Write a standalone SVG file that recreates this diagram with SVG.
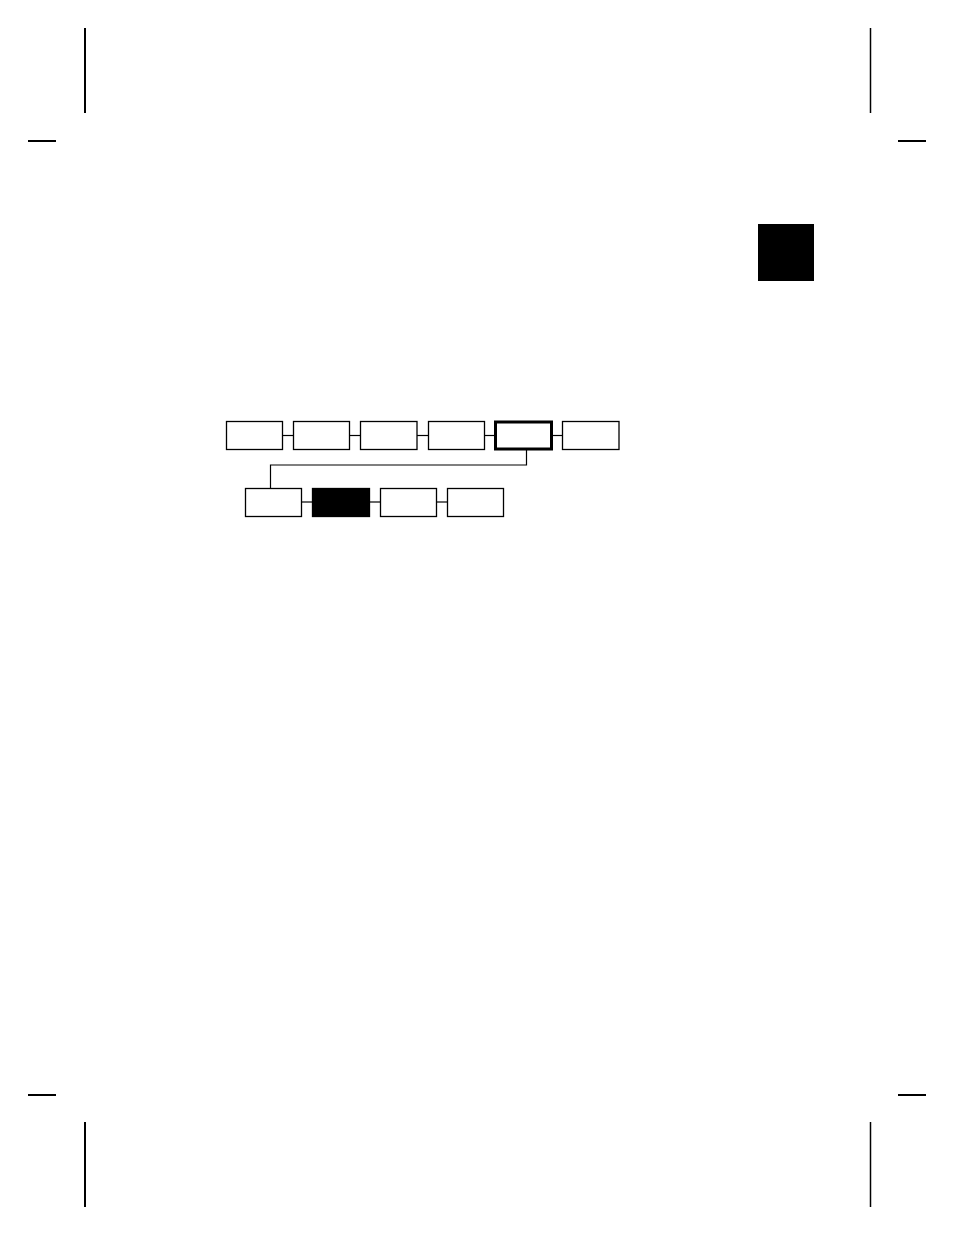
<svg xmlns="http://www.w3.org/2000/svg" width="954" height="1235" viewBox="0 0 954 1235">
<style>
.box{fill:#fff;stroke:#000;stroke-width:1.3}
.thick{fill:#fff;stroke:#000;stroke-width:3}
.filled{fill:#000;stroke:#000;stroke-width:1.3}
.conn{fill:none;stroke:#000;stroke-width:1.2}
.crop{stroke:#000;stroke-width:2;fill:none}
</style>
<rect width="954" height="1235" fill="#fff"/>
<g id="crop-marks">
<line class="crop" x1="85" y1="28" x2="85" y2="113"/>
<line class="crop" x1="28" y1="141" x2="56" y2="141"/>
<line class="crop" x1="870.5" y1="28" x2="870.5" y2="113" style="stroke-width:1.5"/>
<line class="crop" x1="898" y1="141" x2="926" y2="141"/>
<line class="crop" x1="85" y1="1122" x2="85" y2="1207"/>
<line class="crop" x1="28" y1="1095" x2="56" y2="1095"/>
<line class="crop" x1="870.5" y1="1122" x2="870.5" y2="1207" style="stroke-width:1.5"/>
<line class="crop" x1="898" y1="1095" x2="926" y2="1095"/>
</g>
<g id="tab"><rect x="758" y="224" width="56" height="57" fill="#000"/></g>
<g id="connectors">
<line class="conn" x1="282" y1="435.5" x2="293" y2="435.5"/>
<line class="conn" x1="350" y1="435.5" x2="360" y2="435.5"/>
<line class="conn" x1="417" y1="435.5" x2="428" y2="435.5"/>
<line class="conn" x1="485" y1="435.5" x2="495" y2="435.5"/>
<line class="conn" x1="553" y1="435.5" x2="562" y2="435.5"/>
<polyline class="conn" points="526.5,450 526.5,465 270.5,465 270.5,488"/>
<line class="conn" x1="302" y1="502" x2="312" y2="502"/>
<line class="conn" x1="370" y1="502" x2="380" y2="502"/>
<line class="conn" x1="437" y1="502" x2="447" y2="502"/>
</g>
<g id="n1"><rect class="box" x="226.5" y="421.5" width="56" height="28"/></g>
<g id="n2"><rect class="box" x="293.5" y="421.5" width="56" height="28"/></g>
<g id="n3"><rect class="box" x="360.5" y="421.5" width="56.5" height="28"/></g>
<g id="n4"><rect class="box" x="428.5" y="421.5" width="56" height="28"/></g>
<g id="n5"><rect class="thick" x="495.5" y="422" width="56" height="27"/></g>
<g id="n6"><rect class="box" x="562.5" y="421.5" width="56.5" height="28"/></g>
<g id="n7"><rect class="box" x="245.5" y="488.5" width="56" height="28"/></g>
<g id="n8"><rect class="filled" x="312.5" y="488.5" width="57" height="28"/></g>
<g id="n9"><rect class="box" x="380.5" y="488.5" width="56" height="28"/></g>
<g id="n10"><rect class="box" x="447.5" y="488.5" width="56" height="28"/></g>
</svg>
